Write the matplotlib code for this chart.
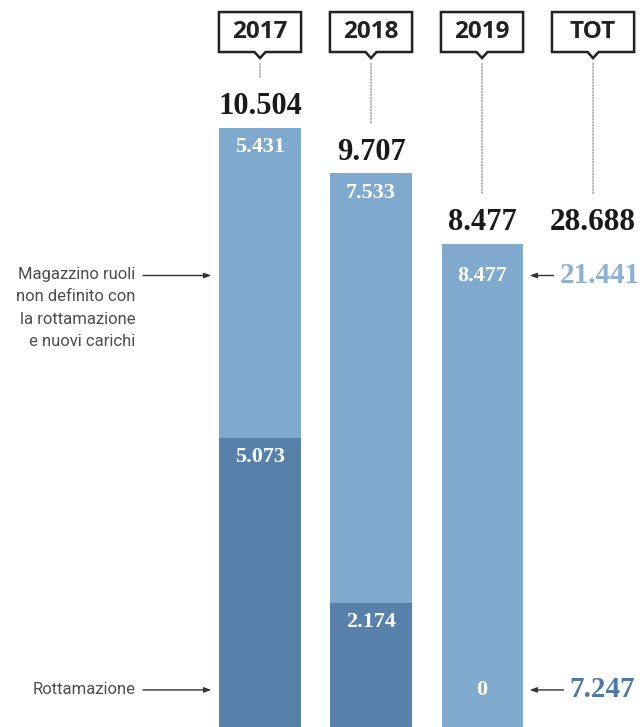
import matplotlib
matplotlib.use("Agg")
import matplotlib.pyplot as plt
from matplotlib.patches import Polygon

# ---- data ----
years = ["2017", "2018", "2019"]
tot_label = "TOT"
light_vals = [5431, 7533, 8477]   # Magazzino ruoli non definito con la rottamazione e nuovi carichi
dark_vals = [5073, 2174, 0]       # Rottamazione
label_light = "Magazzino ruoli\nnon definito con\nla rottamazione\ne nuovi carichi"
label_dark = "Rottamazione"

LIGHT = "#80aacd"
DARK = "#5781ab"
LIGHT_TXT = "#8db2d1"
DARK_TXT = "#4f79a3"

def fmt(v):
    return f"{v:,}".replace(",", ".")

totals = [a + b for a, b in zip(light_vals, dark_vals)]
sum_light = sum(light_vals)
sum_dark = sum(dark_vals)
grand = sum(totals)

fig = plt.figure(figsize=(6.42, 7.27), dpi=100)
ax = fig.add_axes([0, 0, 1, 1])
ax.set_xlim(-2.342, 3.441)
ax.set_ylim(0, 12748)
ax.axis("off")

x = list(range(len(years)))
bw = 0.73
ax.bar(x, dark_vals, width=bw, color=DARK, linewidth=0)
ax.bar(x, light_vals, bottom=dark_vals, width=bw, color=LIGHT, linewidth=0)

serif = "Liberation Serif"
sans = "Open Sans"
arrow_kw = dict(arrowstyle="-|>,head_length=0.4,head_width=0.15", color="#333333", lw=1)

y_top_arrow = totals[-1] - 560
y_bot_arrow = 650

# inside labels
for i in x:
    if i == len(years) - 1:
        ax.text(i, y_top_arrow, fmt(light_vals[i]), ha="center", va="center", color="white",
                fontsize=16, fontweight="bold", family=serif)
    else:
        ax.annotate(fmt(light_vals[i]), (i, totals[i]), xytext=(0, -14), textcoords="offset points",
                    ha="center", va="center", color="white", fontsize=16, fontweight="bold", family=serif)
    if dark_vals[i] > 0:
        ax.annotate(fmt(dark_vals[i]), (i, dark_vals[i]), xytext=(0, -14), textcoords="offset points",
                    ha="center", va="center", color="white", fontsize=16, fontweight="bold", family=serif)
    else:
        ax.text(i, y_bot_arrow, fmt(dark_vals[i]), ha="center", va="center", color="white",
                fontsize=16, fontweight="bold", family=serif)
    # totals above
    ax.annotate(fmt(totals[i]), (i, totals[i]), xytext=(0, 10), textcoords="offset points",
                ha="center", va="baseline", color="#1a1a1a", fontsize=22, fontweight="bold", family=serif)

tx = len(years)
ax.annotate(fmt(grand), (tx, totals[-1]), xytext=(0, 10), textcoords="offset points",
            ha="center", va="baseline", color="#1a1a1a", fontsize=22.5, fontweight="bold", family=serif)

# year boxes with pointer
labels_top = years + [tot_label]
box_top, box_bot, tip = 12537, 11836, 11730
hw = 0.37
for i, lab in enumerate(labels_top):
    poly = Polygon([(i - hw, box_top), (i + hw, box_top), (i + hw, box_bot),
                    (i + 0.05, box_bot), (i, tip), (i - 0.05, box_bot), (i - hw, box_bot)],
                   closed=True, facecolor="white", edgecolor="#222222", linewidth=1.8, zorder=5)
    ax.add_patch(poly)
    ax.text(i, (box_top + box_bot) / 2, lab, ha="center", va="center", fontsize=17.5,
            fontweight="bold", family=sans, color="#222222", zorder=6)
    ref = totals[i] if i < len(years) else totals[-1]
    ax.annotate("", xy=(i, ref), xytext=(i, tip),
                arrowprops=dict(arrowstyle="-", linestyle=(0, (1, 1.2)), color="#999999", lw=1,
                                shrinkA=4, shrinkB=36))

# right side summary
ax.annotate("", xy=(2 + bw / 2 + 0.04, y_top_arrow), xytext=(2.67, y_top_arrow), arrowprops=arrow_kw)
ax.text(2.7, y_top_arrow, fmt(sum_light), ha="left", va="center", fontsize=21, fontweight="bold",
        family=serif, color=LIGHT_TXT)
ax.annotate("", xy=(2 + bw / 2 + 0.04, y_bot_arrow), xytext=(2.76, y_bot_arrow), arrowprops=arrow_kw)
ax.text(2.79, y_bot_arrow, fmt(sum_dark), ha="left", va="center", fontsize=21, fontweight="bold",
        family=serif, color=DARK_TXT)

# left labels
ax.annotate("", xy=(-bw / 2 - 0.05, y_top_arrow), xytext=(-1.08, y_top_arrow), arrowprops=arrow_kw)
ax.annotate(label_light, (-1.12, y_top_arrow), xytext=(0, 6), textcoords="offset points",
            ha="right", va="top", fontsize=12, family="Roboto",
            color="#4d4d4d", linespacing=1.6)
ax.annotate("", xy=(-bw / 2 - 0.05, y_bot_arrow), xytext=(-1.08, y_bot_arrow), arrowprops=arrow_kw)
ax.text(-1.12, y_bot_arrow, label_dark, ha="right", va="center", fontsize=12,
        family="Roboto", color="#4d4d4d")

fig.savefig("out.png", dpi=100, facecolor="white")
